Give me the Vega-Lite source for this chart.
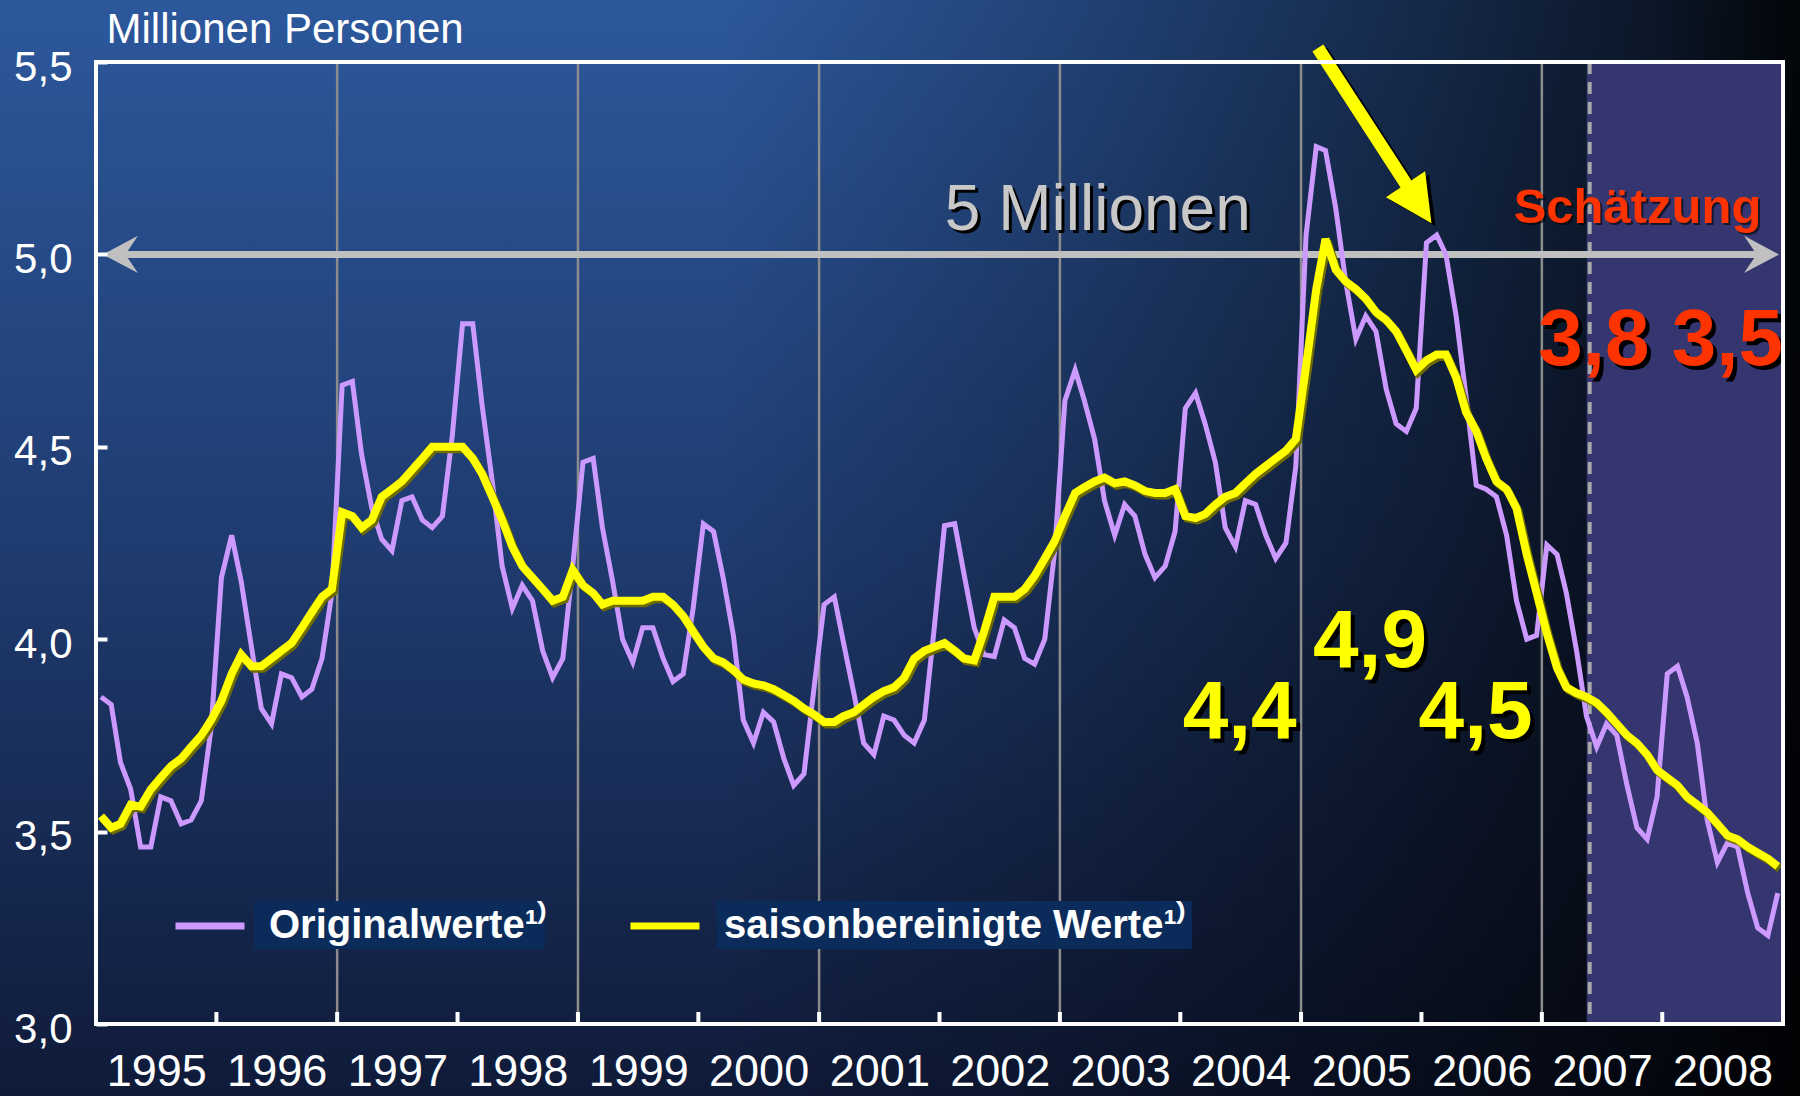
{
  "$schema": "https://vega.github.io/schema/vega-lite/v6.json",
  "width": 1687,
  "height": 962,
  "autosize": {"type": "none"},
  "padding": {"left": 96, "top": 62, "right": 17, "bottom": 72},
  "background": "#14244a",
  "config": {"view": {"stroke": null}, "font": "Liberation Sans"},
  "data": {"values": [{}]},
  "datasets": {
    "monthly": [
      {"d":"1995-01","o":3.85,"s":3.54},{"d":"1995-02","o":3.83,"s":3.51},{"d":"1995-03","o":3.68,"s":3.52},{"d":"1995-04","o":3.61,"s":3.57},{"d":"1995-05","o":3.46,"s":3.565},{"d":"1995-06","o":3.46,"s":3.61},{"d":"1995-07","o":3.59,"s":3.64},{"d":"1995-08","o":3.58,"s":3.67},{"d":"1995-09","o":3.52,"s":3.69},{"d":"1995-10","o":3.53,"s":3.72},{"d":"1995-11","o":3.58,"s":3.75},{"d":"1995-12","o":3.77,"s":3.79},
      {"d":"1996-01","o":4.16,"s":3.84},{"d":"1996-02","o":4.27,"s":3.91},{"d":"1996-03","o":4.15,"s":3.96},{"d":"1996-04","o":3.98,"s":3.93},{"d":"1996-05","o":3.82,"s":3.93},{"d":"1996-06","o":3.78,"s":3.95},{"d":"1996-07","o":3.91,"s":3.97},{"d":"1996-08","o":3.90,"s":3.99},{"d":"1996-09","o":3.85,"s":4.03},{"d":"1996-10","o":3.87,"s":4.07},{"d":"1996-11","o":3.95,"s":4.11},{"d":"1996-12","o":4.12,"s":4.13},
      {"d":"1997-01","o":4.66,"s":4.33},{"d":"1997-02","o":4.67,"s":4.32},{"d":"1997-03","o":4.48,"s":4.29},{"d":"1997-04","o":4.34,"s":4.31},{"d":"1997-05","o":4.26,"s":4.37},{"d":"1997-06","o":4.23,"s":4.39},{"d":"1997-07","o":4.36,"s":4.41},{"d":"1997-08","o":4.37,"s":4.44},{"d":"1997-09","o":4.31,"s":4.47},{"d":"1997-10","o":4.29,"s":4.50},{"d":"1997-11","o":4.32,"s":4.50},{"d":"1997-12","o":4.53,"s":4.50},
      {"d":"1998-01","o":4.82,"s":4.50},{"d":"1998-02","o":4.82,"s":4.47},{"d":"1998-03","o":4.61,"s":4.43},{"d":"1998-04","o":4.41,"s":4.37},{"d":"1998-05","o":4.19,"s":4.31},{"d":"1998-06","o":4.08,"s":4.24},{"d":"1998-07","o":4.14,"s":4.19},{"d":"1998-08","o":4.10,"s":4.16},{"d":"1998-09","o":3.97,"s":4.13},{"d":"1998-10","o":3.90,"s":4.10},{"d":"1998-11","o":3.95,"s":4.11},{"d":"1998-12","o":4.19,"s":4.18},
      {"d":"1999-01","o":4.46,"s":4.14},{"d":"1999-02","o":4.47,"s":4.12},{"d":"1999-03","o":4.29,"s":4.09},{"d":"1999-04","o":4.15,"s":4.10},{"d":"1999-05","o":4.00,"s":4.10},{"d":"1999-06","o":3.94,"s":4.10},{"d":"1999-07","o":4.03,"s":4.10},{"d":"1999-08","o":4.03,"s":4.11},{"d":"1999-09","o":3.95,"s":4.11},{"d":"1999-10","o":3.89,"s":4.09},{"d":"1999-11","o":3.91,"s":4.06},{"d":"1999-12","o":4.08,"s":4.02},
      {"d":"2000-01","o":4.30,"s":3.98},{"d":"2000-02","o":4.28,"s":3.95},{"d":"2000-03","o":4.16,"s":3.94},{"d":"2000-04","o":4.01,"s":3.92},{"d":"2000-05","o":3.79,"s":3.895},{"d":"2000-06","o":3.73,"s":3.885},{"d":"2000-07","o":3.81,"s":3.88},{"d":"2000-08","o":3.785,"s":3.87},{"d":"2000-09","o":3.69,"s":3.855},{"d":"2000-10","o":3.62,"s":3.84},{"d":"2000-11","o":3.65,"s":3.82},{"d":"2000-12","o":3.87,"s":3.805},
      {"d":"2001-01","o":4.09,"s":3.785},{"d":"2001-02","o":4.11,"s":3.785},{"d":"2001-03","o":3.99,"s":3.80},{"d":"2001-04","o":3.86,"s":3.81},{"d":"2001-05","o":3.73,"s":3.83},{"d":"2001-06","o":3.70,"s":3.85},{"d":"2001-07","o":3.80,"s":3.865},{"d":"2001-08","o":3.79,"s":3.875},{"d":"2001-09","o":3.75,"s":3.90},{"d":"2001-10","o":3.73,"s":3.95},{"d":"2001-11","o":3.79,"s":3.97},{"d":"2001-12","o":4.03,"s":3.98},
      {"d":"2002-01","o":4.295,"s":3.99},{"d":"2002-02","o":4.30,"s":3.97},{"d":"2002-03","o":4.17,"s":3.95},{"d":"2002-04","o":4.03,"s":3.945},{"d":"2002-05","o":3.96,"s":4.02},{"d":"2002-06","o":3.955,"s":4.11},{"d":"2002-07","o":4.05,"s":4.11},{"d":"2002-08","o":4.03,"s":4.11},{"d":"2002-09","o":3.95,"s":4.13},{"d":"2002-10","o":3.935,"s":4.165},{"d":"2002-11","o":4.00,"s":4.21},{"d":"2002-12","o":4.23,"s":4.255},
      {"d":"2003-01","o":4.62,"s":4.32},{"d":"2003-02","o":4.70,"s":4.38},{"d":"2003-03","o":4.62,"s":4.395},{"d":"2003-04","o":4.52,"s":4.41},{"d":"2003-05","o":4.36,"s":4.42},{"d":"2003-06","o":4.27,"s":4.405},{"d":"2003-07","o":4.35,"s":4.41},{"d":"2003-08","o":4.32,"s":4.40},{"d":"2003-09","o":4.22,"s":4.385},{"d":"2003-10","o":4.16,"s":4.38},{"d":"2003-11","o":4.19,"s":4.38},{"d":"2003-12","o":4.28,"s":4.39},
      {"d":"2004-01","o":4.60,"s":4.32},{"d":"2004-02","o":4.64,"s":4.315},{"d":"2004-03","o":4.56,"s":4.325},{"d":"2004-04","o":4.46,"s":4.35},{"d":"2004-05","o":4.29,"s":4.37},{"d":"2004-06","o":4.24,"s":4.38},{"d":"2004-07","o":4.36,"s":4.405},{"d":"2004-08","o":4.35,"s":4.43},{"d":"2004-09","o":4.27,"s":4.45},{"d":"2004-10","o":4.21,"s":4.47},{"d":"2004-11","o":4.25,"s":4.49},{"d":"2004-12","o":4.45,"s":4.52},
      {"d":"2005-01","o":5.05,"s":4.71},{"d":"2005-02","o":5.28,"s":4.91},{"d":"2005-03","o":5.27,"s":5.04},{"d":"2005-04","o":5.12,"s":4.96},{"d":"2005-05","o":4.93,"s":4.93},{"d":"2005-06","o":4.78,"s":4.91},{"d":"2005-07","o":4.84,"s":4.885},{"d":"2005-08","o":4.80,"s":4.85},{"d":"2005-09","o":4.65,"s":4.83},{"d":"2005-10","o":4.56,"s":4.80},{"d":"2005-11","o":4.54,"s":4.75},{"d":"2005-12","o":4.60,"s":4.70},
      {"d":"2006-01","o":5.03,"s":4.725},{"d":"2006-02","o":5.05,"s":4.74},{"d":"2006-03","o":5.00,"s":4.74},{"d":"2006-04","o":4.84,"s":4.68},{"d":"2006-05","o":4.63,"s":4.59},{"d":"2006-06","o":4.40,"s":4.54},{"d":"2006-07","o":4.39,"s":4.47},{"d":"2006-08","o":4.37,"s":4.41},{"d":"2006-09","o":4.27,"s":4.39},{"d":"2006-10","o":4.10,"s":4.34},{"d":"2006-11","o":4.00,"s":4.22},{"d":"2006-12","o":4.01,"s":4.12},
      {"d":"2007-01","o":4.245,"s":4.015},{"d":"2007-02","o":4.22,"s":3.925},{"d":"2007-03","o":4.12,"s":3.875},{"d":"2007-04","o":3.97,"s":3.86},{"d":"2007-05","o":3.80,"s":3.85},{"d":"2007-06","o":3.72,"s":3.835},{"d":"2007-07","o":3.78,"s":3.81},{"d":"2007-08","o":3.75,"s":3.78},{"d":"2007-09","o":3.62,"s":3.75},{"d":"2007-10","o":3.51,"s":3.73},{"d":"2007-11","o":3.48,"s":3.70},{"d":"2007-12","o":3.59,"s":3.66},
      {"d":"2008-01","o":3.91,"s":3.64},{"d":"2008-02","o":3.93,"s":3.62},{"d":"2008-03","o":3.85,"s":3.59},{"d":"2008-04","o":3.73,"s":3.57},{"d":"2008-05","o":3.53,"s":3.55},{"d":"2008-06","o":3.42,"s":3.52},{"d":"2008-07","o":3.47,"s":3.49},{"d":"2008-08","o":3.46,"s":3.48},{"d":"2008-09","o":3.34,"s":3.46},{"d":"2008-10","o":3.25,"s":3.445},{"d":"2008-11","o":3.23,"s":3.43},{"d":"2008-12","o":3.34,"s":3.41}
    ],
    "gridyears": [
      {"g":"1997-01-01T00:00:00"},{"g":"1999-01-01T00:00:00"},{"g":"2001-01-01T00:00:00"},{"g":"2003-01-01T00:00:00"},{"g":"2005-01-01T00:00:00"},{"g":"2007-01-01T00:00:00"}
    ],
    "tickyears": [
      {"k":"1996-01-01T00:00:00"},{"k":"1997-01-01T00:00:00"},{"k":"1998-01-01T00:00:00"},{"k":"1999-01-01T00:00:00"},{"k":"2000-01-01T00:00:00"},{"k":"2001-01-01T00:00:00"},{"k":"2002-01-01T00:00:00"},{"k":"2003-01-01T00:00:00"},{"k":"2004-01-01T00:00:00"},{"k":"2005-01-01T00:00:00"},{"k":"2006-01-01T00:00:00"},{"k":"2007-01-01T00:00:00"},{"k":"2008-01-01T00:00:00"}
    ]
  },
  "layer": [
    {
      "mark": {"type": "rect", "clip": false, "fill": {"gradient": "linear", "x1": 0, "y1": 0, "x2": 0, "y2": 1, "stops": [{"offset": 0, "color": "#2c589c"}, {"offset": 0.5, "color": "#1f3b6f"}, {"offset": 1, "color": "#0f1a38"}]}},
      "encoding": {
        "x": {"datum": {"year": 1994, "month": 3, "date": 10}, "type": "temporal"},
        "x2": {"datum": {"year": 2009, "month": 3, "date": 1}},
        "y": {"datum": 5.67, "type": "quantitative"},
        "y2": {"datum": 2.8}
      }
    },
    {
      "mark": {"type": "rect", "clip": false, "fill": {"gradient": "linear", "x1": 0, "y1": 0, "x2": 1, "y2": 0, "stops": [{"offset": 0, "color": "rgba(0,0,0,0)"}, {"offset": 0.4, "color": "rgba(0,0,0,0)"}, {"offset": 0.6, "color": "rgba(0,0,0,0.25)"}, {"offset": 0.8, "color": "rgba(0,0,0,0.55)"}, {"offset": 0.92, "color": "rgba(0,0,0,0.75)"}, {"offset": 1, "color": "rgba(0,0,0,0.95)"}]}},
      "encoding": {
        "x": {"datum": {"year": 1994, "month": 3, "date": 10}, "type": "temporal"},
        "x2": {"datum": {"year": 2009, "month": 3, "date": 1}},
        "y": {"datum": 5.67, "type": "quantitative"},
        "y2": {"datum": 2.8}
      }
    },
    {
      "mark": {"type": "rect", "clip": false, "fill": "#35366f"},
      "encoding": {
        "x": {"datum": {"year": 2007, "month": 5, "date": 17}, "type": "temporal"},
        "x2": {"datum": {"year": 2009, "month": 1, "date": 1}},
        "y": {"datum": 5.5, "type": "quantitative"},
        "y2": {"datum": 3.0}
      }
    },
    {
      "data": {"name": "gridyears"},
      "mark": {"type": "rule", "stroke": "#8c8c8c", "strokeWidth": 2.5},
      "encoding": {"x": {"field": "g", "type": "temporal"}}
    },
    {
      "mark": {"type": "rule", "stroke": "#a8a8a8", "strokeWidth": 4, "strokeDash": [12, 8]},
      "encoding": {
        "x": {"datum": {"year": 2007, "month": 5, "date": 26}, "type": "temporal"},
        "y": {"datum": 5.5, "type": "quantitative"},
        "y2": {"datum": 3.0}
      }
    },
    {
      "mark": {"type": "rule", "stroke": "#c0c0c0", "strokeWidth": 7},
      "encoding": {
        "x": {"datum": {"year": 1995, "month": 2, "date": 27}, "type": "temporal"},
        "x2": {"datum": {"year": 2008, "month": 11, "date": 13}},
        "y": {"datum": 5.0, "type": "quantitative"}
      }
    },
    {
      "mark": {"type": "point", "shape": "M0,0 L1.842,-0.984 L1.184,0 L1.842,0.984 Z", "size": 1444, "filled": true, "fill": "#c0c0c0", "strokeWidth": 0, "opacity": 1, "clip": false},
      "encoding": {
        "x": {"datum": {"year": 1995, "month": 1, "date": 22}, "type": "temporal"},
        "y": {"datum": 5.0, "type": "quantitative"}
      }
    },
    {
      "mark": {"type": "point", "shape": "M0,0 L-1.842,-0.984 L-1.184,0 L-1.842,0.984 Z", "size": 1444, "filled": true, "fill": "#c0c0c0", "strokeWidth": 0, "opacity": 1, "clip": false},
      "encoding": {
        "x": {"datum": {"year": 2008, "month": 12, "date": 20}, "type": "temporal"},
        "y": {"datum": 5.0, "type": "quantitative"}
      }
    },
    {
      "mark": {"type": "rect", "fill": "#0b2c5b"},
      "encoding": {
        "x": {"datum": {"year": 1996, "month": 4, "date": 24}, "type": "temporal"},
        "x2": {"datum": {"year": 1998, "month": 9, "date": 23}},
        "y": {"datum": 3.3196, "type": "quantitative"},
        "y2": {"datum": 3.195}
      }
    },
    {
      "mark": {"type": "rect", "fill": "#0b2c5b"},
      "encoding": {
        "x": {"datum": {"year": 2000, "month": 2, "date": 26}, "type": "temporal"},
        "x2": {"datum": {"year": 2004, "month": 2, "date": 5}},
        "y": {"datum": 3.3196, "type": "quantitative"},
        "y2": {"datum": 3.195}
      }
    },
    {
      "mark": {"type": "text", "text": "5 Millionen", "font": "Liberation Sans", "fontSize": 64, "fill": "#000000", "align": "center", "baseline": "alphabetic", "dx": 3, "dy": 3},
      "encoding": {"x": {"datum": {"year": 2003, "month": 4, "date": 26}, "type": "temporal"}, "y": {"datum": 5.063, "type": "quantitative"}}
    },
    {
      "mark": {"type": "text", "text": "5 Millionen", "font": "Liberation Sans", "fontSize": 64, "fill": "#c8c8c8", "align": "center", "baseline": "alphabetic"},
      "encoding": {"x": {"datum": {"year": 2003, "month": 4, "date": 26}, "type": "temporal"}, "y": {"datum": 5.063, "type": "quantitative"}}
    },
    {
      "mark": {"type": "text", "text": "Schätzung", "font": "Liberation Sans", "fontSize": 49, "fontWeight": "bold", "fill": "#000000", "opacity": 0.6, "align": "center", "baseline": "alphabetic", "dx": 2, "dy": 2, "clip": false},
      "encoding": {"x": {"datum": {"year": 2007, "month": 10, "date": 18}, "type": "temporal"}, "y": {"datum": 5.082, "type": "quantitative"}}
    },
    {
      "mark": {"type": "text", "text": "Schätzung", "font": "Liberation Sans", "fontSize": 49, "fontWeight": "bold", "fill": "#ff3300", "align": "center", "baseline": "alphabetic", "clip": false},
      "encoding": {"x": {"datum": {"year": 2007, "month": 10, "date": 18}, "type": "temporal"}, "y": {"datum": 5.082, "type": "quantitative"}}
    },
    {
      "mark": {"type": "text", "text": "3,8 3,5", "font": "Liberation Sans", "fontSize": 80, "fontWeight": "bold", "fill": "#000000", "align": "center", "baseline": "alphabetic", "dx": 4, "dy": 4, "clip": false},
      "encoding": {"x": {"datum": {"year": 2007, "month": 12, "date": 27}, "type": "temporal"}, "y": {"datum": 4.7126, "type": "quantitative"}}
    },
    {
      "mark": {"type": "text", "text": "3,8 3,5", "font": "Liberation Sans", "fontSize": 80, "fontWeight": "bold", "fill": "#ff3300", "align": "center", "baseline": "alphabetic", "clip": false},
      "encoding": {"x": {"datum": {"year": 2007, "month": 12, "date": 27}, "type": "temporal"}, "y": {"datum": 4.7126, "type": "quantitative"}}
    },
    {
      "mark": {"type": "text", "text": "4,4", "font": "Liberation Sans", "fontSize": 82, "fontWeight": "bold", "fill": "#000000", "align": "center", "baseline": "alphabetic", "dx": 4, "dy": 4},
      "encoding": {"x": {"datum": {"year": 2004, "month": 6, "date": 29}, "type": "temporal"}, "y": {"datum": 3.7432, "type": "quantitative"}}
    },
    {
      "mark": {"type": "text", "text": "4,4", "font": "Liberation Sans", "fontSize": 82, "fontWeight": "bold", "fill": "#ffff00", "align": "center", "baseline": "alphabetic"},
      "encoding": {"x": {"datum": {"year": 2004, "month": 6, "date": 29}, "type": "temporal"}, "y": {"datum": 3.7432, "type": "quantitative"}}
    },
    {
      "mark": {"type": "text", "text": "4,9", "font": "Liberation Sans", "fontSize": 82, "fontWeight": "bold", "fill": "#000000", "align": "center", "baseline": "alphabetic", "dx": 4, "dy": 4},
      "encoding": {"x": {"datum": {"year": 2005, "month": 7, "date": 29}, "type": "temporal"}, "y": {"datum": 3.9286, "type": "quantitative"}}
    },
    {
      "mark": {"type": "text", "text": "4,9", "font": "Liberation Sans", "fontSize": 82, "fontWeight": "bold", "fill": "#ffff00", "align": "center", "baseline": "alphabetic"},
      "encoding": {"x": {"datum": {"year": 2005, "month": 7, "date": 29}, "type": "temporal"}, "y": {"datum": 3.9286, "type": "quantitative"}}
    },
    {
      "mark": {"type": "text", "text": "4,5", "font": "Liberation Sans", "fontSize": 82, "fontWeight": "bold", "fill": "#000000", "align": "center", "baseline": "alphabetic", "dx": 4, "dy": 4},
      "encoding": {"x": {"datum": {"year": 2006, "month": 6, "date": 14}, "type": "temporal"}, "y": {"datum": 3.7432, "type": "quantitative"}}
    },
    {
      "mark": {"type": "text", "text": "4,5", "font": "Liberation Sans", "fontSize": 82, "fontWeight": "bold", "fill": "#ffff00", "align": "center", "baseline": "alphabetic"},
      "encoding": {"x": {"datum": {"year": 2006, "month": 6, "date": 14}, "type": "temporal"}, "y": {"datum": 3.7432, "type": "quantitative"}}
    },
    {
      "data": {"name": "monthly"},
      "mark": {"type": "line", "strokeWidth": 5, "xOffset": 5},
      "encoding": {
        "x": {
          "field": "d", "type": "temporal",
          "scale": {"domain": [{"year": 1995, "month": 1, "date": 1}, {"year": 2009, "month": 1, "date": 1}], "nice": false},
          "axis": {
            "values": [788918400000, 820454400000, 852076800000, 883612800000, 915148800000, 946684800000, 978307200000, 1009843200000, 1041379200000, 1072915200000, 1104537600000, 1136073600000, 1167609600000, 1199145600000],
            "format": "%Y",
            "labelOffset": 60.25, "labelFlush": false, "labelOverlap": false, "labelBound": false,
            "labelFont": "Liberation Sans", "labelFontSize": 45, "labelColor": "#ffffff",
            "labelBaseline": "alphabetic", "labelPadding": 61,
            "ticks": false,
            "domain": false, "grid": false, "title": null, "zindex": 1
          }
        },
        "y": {
          "field": "o", "type": "quantitative",
          "scale": {"domain": [3, 5.5], "nice": false, "zero": false},
          "axis": {
            "values": [3, 3.5, 4, 4.5, 5, 5.5],
            "labelExpr": "replace(format(datum.value, '.1f'), '.', ',')",
            "labelFont": "Liberation Sans", "labelFontSize": 42, "labelColor": "#ffffff",
            "labelPadding": 35, "labelOffset": 5, "labelBound": false, "labelFlush": false, "labelOverlap": false,
            "tickSize": -11, "tickWidth": 4, "tickColor": "#ffffff",
            "domain": false, "grid": false, "zindex": 1,
            "title": "Millionen Personen", "titleAngle": 0, "titleAlign": "left", "titleBaseline": "alphabetic",
            "titleX": 10, "titleY": -20, "titleFont": "Liberation Sans", "titleFontSize": 42, "titleFontWeight": "normal", "titleColor": "#ffffff"
          }
        },
        "color": {
          "datum": "Originalwerte¹⁾", "type": "nominal",
          "scale": {"domain": ["Originalwerte¹⁾", "saisonbereinigte Werte¹⁾"], "range": ["#cc99ff", "#ffff00"]},
          "legend": {
            "orient": "none", "legendX": 76, "legendY": 826, "direction": "horizontal", "title": null,
            "symbolType": "stroke", "symbolSize": 4761, "symbolStrokeWidth": 7,
            "labelFont": "Liberation Sans", "labelFontSize": 40, "labelFontWeight": "bold", "labelColor": "#ffffff",
            "labelOffset": 21, "columnPadding": 69, "padding": 0, "labelLimit": 1000
          }
        }
      }
    },
    {
      "data": {"name": "monthly"},
      "mark": {"type": "line", "stroke": "#6e6c00", "strokeWidth": 8, "xOffset": 7, "yOffset": 2.5},
      "encoding": {
        "x": {"field": "d", "type": "temporal"},
        "y": {"field": "s", "type": "quantitative"}
      }
    },
    {
      "data": {"name": "monthly"},
      "mark": {"type": "line", "strokeWidth": 8, "xOffset": 5},
      "encoding": {
        "x": {"field": "d", "type": "temporal"},
        "y": {"field": "s", "type": "quantitative"},
        "color": {"datum": "saisonbereinigte Werte¹⁾", "type": "nominal"}
      }
    },
    {
      "mark": {"type": "rule", "stroke": "#000000", "strokeWidth": 13, "strokeCap": "butt", "clip": false, "xOffset": 4, "x2Offset": 4, "yOffset": 3, "y2Offset": 3},
      "encoding": {
        "x": {"datum": {"year": 2005, "month": 2, "date": 21}, "type": "temporal"},
        "x2": {"datum": {"year": 2005, "month": 11, "date": 27}},
        "y": {"datum": 5.5364, "type": "quantitative"},
        "y2": {"datum": 5.1674}
      }
    },
    {
      "mark": {"type": "point", "shape": "M1,0 L-1,-1 L-1,1 Z", "size": 2209, "angle": 56.5, "filled": true, "fill": "#000000", "strokeWidth": 0, "opacity": 1, "clip": false, "xOffset": 4, "yOffset": 3},
      "encoding": {
        "x": {"datum": {"year": 2005, "month": 12, "date": 23}, "type": "temporal"},
        "y": {"datum": 5.1316, "type": "quantitative"}
      }
    },
    {
      "mark": {"type": "rule", "stroke": "#ffff00", "strokeWidth": 13, "strokeCap": "butt", "clip": false},
      "encoding": {
        "x": {"datum": {"year": 2005, "month": 2, "date": 21}, "type": "temporal"},
        "x2": {"datum": {"year": 2005, "month": 11, "date": 27}},
        "y": {"datum": 5.5364, "type": "quantitative"},
        "y2": {"datum": 5.1674}
      }
    },
    {
      "mark": {"type": "point", "shape": "M1,0 L-1,-1 L-1,1 Z", "size": 2209, "angle": 56.5, "filled": true, "fill": "#ffff00", "strokeWidth": 0, "opacity": 1, "clip": false},
      "encoding": {
        "x": {"datum": {"year": 2005, "month": 12, "date": 23}, "type": "temporal"},
        "y": {"datum": 5.1316, "type": "quantitative"}
      }
    },
    {
      "data": {"name": "tickyears"},
      "mark": {"type": "rule", "stroke": "#ffffff", "strokeWidth": 4},
      "encoding": {
        "x": {"field": "k", "type": "temporal"},
        "y": {"datum": 3.0, "type": "quantitative"},
        "y2": {"datum": 3.0312}
      }
    },
    {
      "mark": {"type": "rect", "filled": false, "stroke": "#ffffff", "strokeWidth": 4, "clip": false},
      "encoding": {
        "x": {"datum": {"year": 1995, "month": 1, "date": 1}, "type": "temporal"},
        "x2": {"datum": {"year": 2009, "month": 1, "date": 1}},
        "y": {"datum": 5.5, "type": "quantitative"},
        "y2": {"datum": 3.0}
      }
    }
  ]
}
